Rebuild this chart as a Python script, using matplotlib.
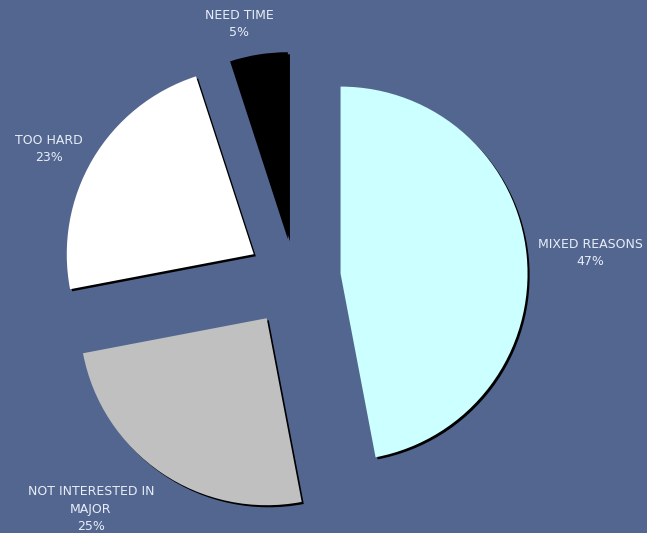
import matplotlib
matplotlib.use("Agg")
import matplotlib.pyplot as plt
import matplotlib.patheffects as pe

# survey answers
categories = ["MIXED REASONS", "NOT INTERESTED IN\nMAJOR", "TOO HARD", "NEED TIME"]
shares = [47, 25, 23, 5]
colors = ["#CCFFFF", "#C0C0C0", "#FFFFFF", "#000000"]
explode = [0.25, 0.26, 0.25, 0.21]

# label anchor points, in figure pixels (origin top-left)
label_pos = [(590, 253), (91, 509), (49, 149), (239, 24)]

BG = "#526690"
W, H = 647, 533
cx, cy, R = 294, 278, 187  # pie centre and radius in pixels

fig = plt.figure(figsize=(W / 100, H / 100), dpi=100, facecolor=BG)
ax = fig.add_axes([0, 0, 1, 1])
ax.set_facecolor(BG)

shadow = [pe.SimplePatchShadow(offset=(1.5, -1.5), shadow_rgbFace="black", alpha=1.0),
          pe.Normal()]

wedges, _ = ax.pie(shares, colors=colors, explode=explode, startangle=90,
                   counterclock=False, radius=1.0,
                   wedgeprops=dict(linewidth=0, path_effects=shadow))

ax.set_xlim(-cx / R, (W - cx) / R)
ax.set_ylim(-(H - cy) / R, cy / R)
ax.set_aspect("auto")
ax.axis("off")

for name, val, (px, py) in zip(categories, shares, label_pos):
    fig.text(px / W, 1 - py / H, "%s\n%d%%" % (name, val), ha="center", va="center",
             color="#E8EEF8", fontsize=9, linespacing=1.42)

fig.savefig("out.png", dpi=100, facecolor=BG)
